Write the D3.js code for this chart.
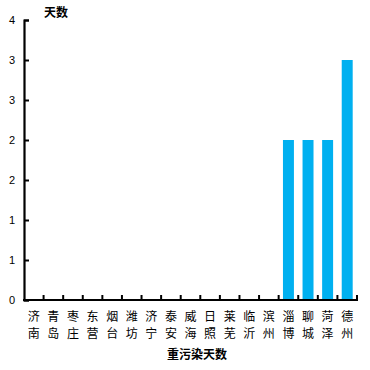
<!DOCTYPE html>
<html><head><meta charset="utf-8">
<script src="https://cdn.jsdelivr.net/npm/d3@7"></script>
<style>body{margin:0;background:#fff}svg{display:block}</style>
</head><body>
<script>
const categories = ["济南","青岛","枣庄","东营","烟台","潍坊","济宁","泰安","威海","日照","莱芜","临沂","滨州","淄博","聊城","菏泽","德州"];
const values = [0,0,0,0,0,0,0,0,0,0,0,0,0,2,2,2,3];
const yTicks = [0,0.5,1,1.5,2,2.5,3,3.5];
const yTitle = "天数";
const xTitle = "重污染天数";

const W = 370, H = 370;
const m = {left:24, right:13, top:20, bottom:70};
const svg = d3.select("body").append("svg").attr("width",W).attr("height",H);
const x = d3.scaleBand().domain(categories).range([m.left, W-m.right]).paddingInner(0.44).paddingOuter(0.22);
const y = d3.scaleLinear().domain([0,3.5]).range([H-m.bottom, m.top]);
const font = "'Noto Sans CJK SC', 'Noto Sans', sans-serif";

svg.append("g").selectAll("rect").data(values).join("rect")
  .attr("x",(d,i)=>x(categories[i])).attr("width",x.bandwidth())
  .attr("y",d=>y(d)).attr("height",d=>y(0)-y(d)).attr("fill","#00b0f0");

// y axis
const ya = svg.append("g").attr("transform",`translate(${m.left},0)`)
  .call(d3.axisLeft(y).tickValues(yTicks).tickSize(-5).tickPadding(9).tickFormat(d=>String(Math.round(d))));
ya.select(".domain").attr("stroke","#000").attr("stroke-width",2.2);
ya.selectAll(".tick line").attr("stroke","#000").attr("stroke-width",2);
ya.selectAll(".tick text").attr("font-family","Arial, 'Liberation Sans', sans-serif").attr("font-size",11).attr("fill","#000");

// x axis with boundary ticks
const xa = svg.append("g").attr("transform",`translate(0,${y(0)})`);
xa.append("line").attr("x1",m.left-1).attr("x2",W-m.right+1).attr("stroke","#000").attr("stroke-width",2.2);
const step = x.step();
const bounds = categories.map((c,i)=>x(c)+x.bandwidth()+ (step - x.bandwidth())/2);
xa.selectAll("line.tk").data(bounds).join("line").attr("class","tk")
  .attr("x1",d=>d).attr("x2",d=>d).attr("y1",0).attr("y2",-5).attr("stroke","#000").attr("stroke-width",2);
const lab = xa.selectAll("text.cat").data(categories).join("text").attr("class","cat")
  .attr("x",c=>x(c)+x.bandwidth()/2).attr("text-anchor","middle")
  .attr("font-family",font).attr("font-size",12).attr("fill","#000");
lab.append("tspan").attr("x",c=>x(c)+x.bandwidth()/2).attr("y",21).text(c=>c[0]);
lab.append("tspan").attr("x",c=>x(c)+x.bandwidth()/2).attr("y",38).text(c=>c[1]);

svg.append("text").attr("x",56).attr("y",17).attr("text-anchor","middle")
  .attr("font-family",font).attr("font-weight","bold").attr("font-size",12).text(yTitle);
svg.append("text").attr("x",197).attr("y",359).attr("text-anchor","middle")
  .attr("font-family",font).attr("font-weight","bold").attr("font-size",12).text(xTitle);
</script>
</body></html>
